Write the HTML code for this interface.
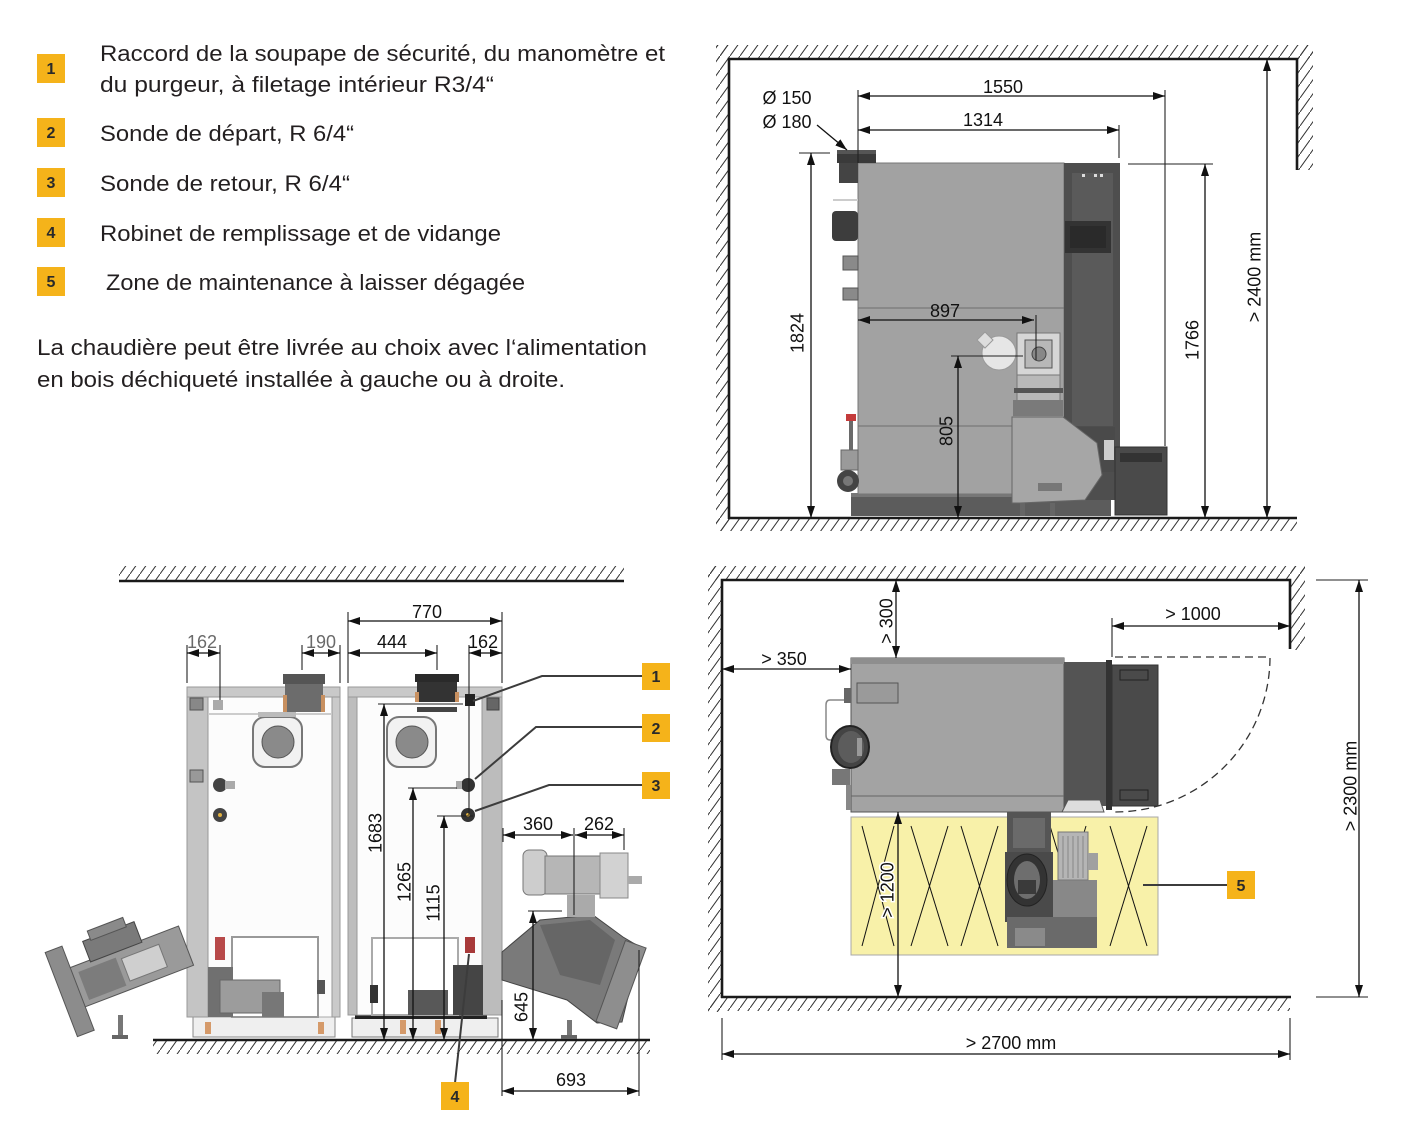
<!DOCTYPE html>
<html><head><meta charset="utf-8"><title>Chaudière - dimensions</title>
<style>
html,body{margin:0;padding:0;background:#fff;width:1405px;height:1145px;overflow:hidden}
svg{display:block}
.t{font-family:"Liberation Sans","DejaVu Sans",sans-serif;font-size:22px;fill:#231f20}
.d{font-family:"Liberation Sans","DejaVu Sans",sans-serif;font-size:18px;fill:#111;text-anchor:middle}
.g{fill:#6a6a6a}
.bd{font-family:"Liberation Sans","DejaVu Sans",sans-serif;font-size:16px;font-weight:bold;fill:#2a2a2a;text-anchor:middle}
.dim{stroke:#111;stroke-width:1.3;fill:none}
.ext{stroke:#222;stroke-width:1.1;fill:none}
.wall{stroke:#1a1a1a;stroke-width:2.6;fill:none}
.ld{stroke:#3c3c3c;stroke-width:2;fill:none}
.halo{paint-order:stroke;stroke:#fff;stroke-width:3px}
</style></head><body>
<svg width="1405" height="1145" viewBox="0 0 1405 1145" xmlns="http://www.w3.org/2000/svg">
<defs>
<pattern id="h" patternUnits="userSpaceOnUse" width="10" height="14">
<path d="M-1,15.4 L11,-1.4" stroke="#333" stroke-width="1"/>
</pattern>
<marker id="ar" viewBox="0 0 12 8" refX="12" refY="4" markerWidth="12" markerHeight="8" markerUnits="userSpaceOnUse" orient="auto-start-reverse"><path d="M0,0 L12,4 L0,8 z" fill="#111"/></marker>
<marker id="ae" viewBox="0 0 12 8" refX="12" refY="4" markerWidth="12" markerHeight="8" markerUnits="userSpaceOnUse" orient="auto"><path d="M0,0 L12,4 L0,8 z" fill="#111"/></marker>
</defs>
<rect width="1405" height="1145" fill="#fff"/>

<!-- ============ LEGEND TEXT ============ -->
<rect x="37" y="54" width="28" height="29" fill="#f5b31a"/><text class="bd" x="51" y="74">1</text>
<rect x="37" y="118" width="28" height="29" fill="#f5b31a"/><text class="bd" x="51" y="138">2</text>
<rect x="37" y="168" width="28" height="29" fill="#f5b31a"/><text class="bd" x="51" y="188">3</text>
<rect x="37" y="218" width="28" height="29" fill="#f5b31a"/><text class="bd" x="51" y="238">4</text>
<rect x="37" y="267" width="28" height="29" fill="#f5b31a"/><text class="bd" x="51" y="287">5</text>

<text class="t" x="100" y="61" textLength="565" lengthAdjust="spacingAndGlyphs">Raccord de la soupape de sécurité, du manomètre et</text>
<text class="t" x="100" y="92" textLength="394" lengthAdjust="spacingAndGlyphs">du purgeur, à filetage intérieur R3/4“</text>
<text class="t" x="100" y="141" textLength="254" lengthAdjust="spacingAndGlyphs">Sonde de départ, R 6/4“</text>
<text class="t" x="100" y="191" textLength="250" lengthAdjust="spacingAndGlyphs">Sonde de retour, R 6/4“</text>
<text class="t" x="100" y="241" textLength="401" lengthAdjust="spacingAndGlyphs">Robinet de remplissage et de vidange</text>
<text class="t" x="106" y="290" textLength="419" lengthAdjust="spacingAndGlyphs">Zone de maintenance à laisser dégagée</text>
<text class="t" x="37" y="355" textLength="610" lengthAdjust="spacingAndGlyphs">La chaudière peut être livrée au choix avec l‘alimentation</text>
<text class="t" x="37" y="387" textLength="528" lengthAdjust="spacingAndGlyphs">en bois déchiqueté installée à gauche ou à droite.</text>

<!-- ============ TOP RIGHT : SIDE VIEW ============ -->
<rect x="716" y="45" width="597" height="14" fill="url(#h)"/>
<rect x="716" y="45" width="13" height="486" fill="url(#h)"/>
<rect x="1298" y="45" width="15" height="125" fill="url(#h)"/>
<rect x="716" y="519" width="581" height="12" fill="url(#h)"/>
<rect x="729" y="59" width="568" height="459" fill="#fff"/>
<path class="wall" d="M729,519 V59 H1297 V170"/>
<line class="wall" x1="728" y1="518" x2="1297" y2="518"/>

<!-- base -->
<rect x="851" y="493" width="260" height="23" fill="#5c5c5c"/>
<rect x="851" y="493" width="260" height="4" fill="#777"/>
<!-- body -->
<rect x="858" y="163" width="206" height="331" fill="#a2a2a2" stroke="#777" stroke-width="1"/>
<line x1="858" y1="308" x2="1064" y2="308" stroke="#6e6e6e"/>
<line x1="858" y1="426" x2="1064" y2="426" stroke="#6e6e6e"/>
<!-- dark panel -->
<rect x="1064" y="163" width="56" height="337" fill="#4e4e4e"/>
<rect x="1072" y="173" width="41" height="253" fill="#5a5a5a"/>
<rect x="1065" y="221" width="46" height="32" fill="#333"/>
<rect x="1070" y="226" width="36" height="22" fill="#2a2a2a"/>
<rect x="1082" y="174" width="3" height="3" fill="#ddd"/><rect x="1094" y="174" width="3" height="3" fill="#ddd"/><rect x="1100" y="174" width="3" height="3" fill="#ddd"/>
<!-- flue -->
<rect x="837" y="152" width="39" height="11" fill="#3a3a3a"/>
<rect x="837" y="150" width="39" height="4" fill="#555"/>
<rect x="839" y="163" width="19" height="20" fill="#444"/>
<!-- left attachments -->
<rect x="833" y="199" width="25" height="2" fill="#ccc"/>
<rect x="832" y="211" width="26" height="30" rx="4" fill="#3d3d3d"/>
<rect x="843" y="256" width="15" height="14" fill="#8a8a8a" stroke="#555"/>
<rect x="843" y="288" width="15" height="12" fill="#8a8a8a" stroke="#555"/>
<rect x="846" y="414" width="10" height="7" fill="#c43b3b"/>
<rect x="849" y="421" width="4" height="48" fill="#6a6a6a"/>
<rect x="841" y="450" width="17" height="20" fill="#9a9a9a" stroke="#666"/>
<circle cx="848" cy="481" r="11" fill="#444"/>
<circle cx="848" cy="481" r="5" fill="#777"/>
<!-- burner -->
<rect x="1063" y="427" width="52" height="45" fill="#4a4a4a"/>
<circle cx="999" cy="353" r="17" fill="#e6e6e6" stroke="#999"/>
<path d="M977,340 L985,332 L993,340 L985,348 z" fill="#ddd" stroke="#999"/>
<rect x="1017" y="333" width="43" height="42" fill="#d6d6d6" stroke="#777"/>
<rect x="1025" y="340" width="27" height="28" fill="#b8b8b8" stroke="#555"/>
<circle cx="1039" cy="354" r="7" fill="#888" stroke="#444"/>
<rect x="1017" y="375" width="43" height="30" fill="#b9b9b9" stroke="#777"/>
<rect x="1014" y="388" width="49" height="5" fill="#555"/>
<rect x="1013" y="400" width="50" height="16" fill="#7a7a7a"/>
<path d="M1012,417 L1063,417 L1097,443 L1102,475 L1085,500 L1020,503 L1012,503 z" fill="#a6a6a6" stroke="#666"/>
<rect x="1038" y="483" width="24" height="8" fill="#777"/>
<rect x="1020" y="503" width="5" height="13" fill="#666"/>
<rect x="1050" y="503" width="5" height="13" fill="#666"/>
<rect x="1115" y="447" width="52" height="68" fill="#4a4a4a" stroke="#333"/>
<rect x="1120" y="453" width="42" height="9" fill="#333"/>
<rect x="1104" y="440" width="10" height="20" fill="#ccc"/>

<!-- dims top right -->
<line class="ext" x1="858" y1="90" x2="858" y2="163"/>
<line class="ext" x1="1165" y1="90" x2="1165" y2="446"/>
<line class="ext" x1="1119" y1="125" x2="1119" y2="158"/>
<line class="dim" x1="858" y1="96" x2="1165" y2="96" marker-start="url(#ar)" marker-end="url(#ar)"/>
<text class="d" x="1003" y="93">1550</text>
<line class="dim" x1="858" y1="130" x2="1119" y2="130" marker-start="url(#ar)" marker-end="url(#ar)"/>
<text class="d" x="983" y="126">1314</text>
<text class="d" x="787" y="104">Ø 150</text>
<text class="d" x="787" y="128">Ø 180</text>
<line class="dim" x1="817" y1="125" x2="847" y2="150" marker-end="url(#ae)"/>
<line class="ext" x1="799" y1="153" x2="830" y2="153"/>
<line class="dim" x1="811" y1="153" x2="811" y2="518" marker-start="url(#ar)" marker-end="url(#ar)"/>
<text class="d" transform="translate(797,333) rotate(-90)" dy="6.5">1824</text>
<line class="ext" x1="1128" y1="164" x2="1213" y2="164"/>
<line class="dim" x1="1205" y1="164" x2="1205" y2="518" marker-start="url(#ar)" marker-end="url(#ar)"/>
<text class="d" transform="translate(1192,340) rotate(-90)" dy="6.5">1766</text>
<line class="dim" x1="1267" y1="59" x2="1267" y2="518" marker-start="url(#ar)" marker-end="url(#ar)"/>
<text class="d" transform="translate(1254,277) rotate(-90)" dy="6.5">&gt; 2400 mm</text>
<line class="dim" x1="858" y1="320" x2="1034" y2="320" marker-start="url(#ar)" marker-end="url(#ar)"/>
<text class="d" x="945" y="317">897</text>
<line class="ext" x1="1036" y1="315" x2="1036" y2="360" stroke="#111"/>
<line class="ext" x1="951" y1="356" x2="1023" y2="356"/>
<line class="dim" x1="958" y1="356" x2="958" y2="518" marker-start="url(#ar)" marker-end="url(#ar)"/>
<text class="d" transform="translate(946,431) rotate(-90)" dy="6.5">805</text>

<!-- ============ BOTTOM RIGHT : TOP VIEW ============ -->
<rect x="708" y="566" width="597" height="14" fill="url(#h)"/>
<rect x="708" y="566" width="14" height="446" fill="url(#h)"/>
<rect x="1291" y="566" width="14" height="84" fill="url(#h)"/>
<rect x="708" y="998" width="582" height="13" fill="url(#h)"/>
<rect x="722" y="580" width="568" height="417" fill="#fff"/>
<path class="wall" d="M722,998 V580 H1290 V649"/>
<line class="wall" x1="721" y1="997" x2="1291" y2="997"/>

<!-- yellow zone -->
<rect x="851" y="817" width="307" height="138" fill="#f8f1a9" stroke="#a8a8a8"/>
<g stroke="#111" stroke-width="1">
<line x1="862" y1="826" x2="894" y2="946"/><line x1="894" y1="826" x2="862" y2="946"/>
<line x1="911" y1="826" x2="948" y2="946"/><line x1="948" y1="826" x2="911" y2="946"/>
<line x1="961" y1="826" x2="998" y2="946"/><line x1="998" y1="826" x2="961" y2="946"/>
<line x1="1050" y1="826" x2="1086" y2="946"/><line x1="1086" y1="826" x2="1050" y2="946"/>
<line x1="1110" y1="826" x2="1147" y2="946"/><line x1="1147" y1="826" x2="1110" y2="946"/>
</g>
<!-- burner equipment top view -->
<rect x="1007" y="812" width="44" height="42" fill="#555"/>
<rect x="1013" y="818" width="32" height="30" fill="#6a6a6a"/>
<rect x="1005" y="852" width="48" height="70" fill="#4a4a4a"/>
<ellipse cx="1027" cy="880" rx="20" ry="26" fill="#333" stroke="#222"/>
<ellipse cx="1027" cy="880" rx="13" ry="19" fill="#6e6e6e"/>
<rect x="1018" y="880" width="18" height="14" fill="#3a3a3a"/>
<rect x="1053" y="880" width="44" height="38" fill="#888"/>
<rect x="1058" y="832" width="30" height="48" fill="#b5b5b5" stroke="#777"/>
<g stroke="#888" stroke-width="1"><line x1="1063" y1="836" x2="1063" y2="878"/><line x1="1068" y1="836" x2="1068" y2="878"/><line x1="1073" y1="836" x2="1073" y2="878"/><line x1="1078" y1="836" x2="1078" y2="878"/><line x1="1083" y1="836" x2="1083" y2="878"/></g>
<rect x="1088" y="853" width="10" height="17" fill="#a0a0a0"/>
<rect x="1007" y="917" width="90" height="31" fill="#6a6a6a"/>
<rect x="1015" y="928" width="30" height="18" fill="#8a8a8a"/>
<!-- boiler top view -->
<rect x="851" y="658" width="213" height="154" fill="#a3a3a3" stroke="#555"/>
<rect x="851" y="658" width="213" height="6" fill="#8e8e8e"/>
<line x1="851" y1="796" x2="1064" y2="796" stroke="#666"/>
<rect x="1064" y="662" width="42" height="144" fill="#545454"/>
<rect x="1106" y="660" width="6" height="150" fill="#333"/>
<rect x="1112" y="665" width="46" height="141" fill="#4a4a4a" stroke="#333"/>
<rect x="1120" y="670" width="28" height="10" fill="none" stroke="#222"/>
<rect x="1120" y="790" width="28" height="10" fill="none" stroke="#222"/>
<path d="M1062,812 L1068,800 L1100,800 L1104,812 z" fill="#ddd" stroke="#555"/>
<rect x="857" y="683" width="41" height="20" fill="#9a9a9a" stroke="#555"/>
<path d="M851,700 H830 Q826,700 826,705 V735 Q826,740 830,740 H838" stroke="#888" fill="none" stroke-width="1.5"/>
<rect x="844" y="688" width="7" height="15" fill="#666"/>
<ellipse cx="850" cy="747" rx="19" ry="21" fill="#444" stroke="#222" stroke-width="2"/>
<ellipse cx="851" cy="747" rx="13" ry="16" fill="#5c5c5c"/>
<rect x="857" y="738" width="5" height="18" fill="#999"/>
<rect x="832" y="769" width="18" height="16" fill="#777"/>
<rect x="846" y="785" width="5" height="25" fill="#888"/>
<!-- dashed door arc -->
<path d="M1115,657 L1270,657 A155,155 0 0 1 1115,812" fill="none" stroke="#333" stroke-width="1.3" stroke-dasharray="8,5"/>

<!-- dims bottom right -->
<line class="dim" x1="896" y1="580" x2="896" y2="658" marker-start="url(#ar)" marker-end="url(#ar)"/>
<text class="d" transform="translate(886,621) rotate(-90)" dy="6.5">&gt; 300</text>
<line class="ext" x1="1112" y1="618" x2="1112" y2="657"/>
<line class="dim" x1="1112" y1="626" x2="1290" y2="626" marker-start="url(#ar)" marker-end="url(#ar)"/>
<text class="d" x="1193" y="620">&gt; 1000</text>
<line class="dim" x1="722" y1="669" x2="851" y2="669" marker-start="url(#ar)" marker-end="url(#ar)"/>
<text class="d" x="784" y="665">&gt; 350</text>
<line class="dim" x1="898" y1="812" x2="898" y2="997" marker-start="url(#ar)" marker-end="url(#ar)"/>
<text class="d halo" transform="translate(887,890) rotate(-90)" dy="6.5">&gt; 1200</text>
<line class="ext" x1="1316" y1="580" x2="1368" y2="580"/>
<line class="ext" x1="1316" y1="997" x2="1368" y2="997"/>
<line class="dim" x1="1359" y1="580" x2="1359" y2="997" marker-start="url(#ar)" marker-end="url(#ar)"/>
<text class="d" transform="translate(1350,786) rotate(-90)" dy="6.5">&gt; 2300 mm</text>
<line class="ext" x1="722" y1="1018" x2="722" y2="1060"/>
<line class="ext" x1="1290" y1="1018" x2="1290" y2="1060"/>
<line class="dim" x1="722" y1="1054" x2="1290" y2="1054" marker-start="url(#ar)" marker-end="url(#ar)"/>
<text class="d" x="1011" y="1049">&gt; 2700 mm</text>
<line class="ld" x1="1143" y1="885" x2="1227" y2="885" stroke-width="1.5"/>
<rect x="1227" y="871" width="28" height="28" fill="#f5b31a"/><text class="bd" x="1241" y="891">5</text>

<!-- ============ BOTTOM LEFT : FRONT/REAR VIEW ============ -->
<rect x="119" y="566" width="505" height="15" fill="url(#h)"/>
<line class="wall" x1="119" y1="581" x2="624" y2="581"/>
<rect x="153" y="1041" width="497" height="13" fill="url(#h)"/>
<line class="wall" x1="153" y1="1040" x2="650" y2="1040"/>

<!-- left boiler (rear) -->
<rect x="193" y="1017" width="142" height="20" fill="#efefef" stroke="#888"/>
<rect x="205" y="1022" width="6" height="12" fill="#d59a6a"/><rect x="318" y="1022" width="6" height="12" fill="#d59a6a"/>
<rect x="187" y="687" width="153" height="330" fill="#fcfcfc" stroke="#aaa"/>
<rect x="187" y="687" width="21" height="330" fill="#c4c4c4" stroke="#999"/>
<rect x="332" y="697" width="8" height="320" fill="#cacaca" stroke="#999"/>
<rect x="187" y="687" width="153" height="10" fill="#c9c9c9" stroke="#999"/>
<rect x="190" y="698" width="13" height="12" fill="#888" stroke="#555"/>
<rect x="213" y="700" width="10" height="10" fill="#aaa"/>
<rect x="208" y="713" width="124" height="2" fill="#ccc"/>
<rect x="285" y="676" width="38" height="36" fill="#6c6c6c"/>
<rect x="283" y="674" width="42" height="10" fill="#555"/>
<rect x="283" y="695" width="4" height="17" fill="#c89060"/><rect x="321" y="695" width="4" height="17" fill="#c89060"/>
<rect x="253" y="717" width="49" height="50" rx="12" fill="#f2f2f2" stroke="#777" stroke-width="2"/>
<rect x="258" y="712" width="38" height="5" fill="#bbb"/>
<circle cx="278" cy="742" r="16" fill="#8a8a8a" stroke="#555"/>
<circle cx="220" cy="785" r="7" fill="#444"/><rect x="225" y="781" width="10" height="8" fill="#aaa"/>
<circle cx="220" cy="815" r="7" fill="#444"/><circle cx="220" cy="815" r="2" fill="#e0b040"/>
<rect x="190" y="770" width="13" height="12" fill="#999" stroke="#555"/>
<rect x="232" y="937" width="86" height="80" fill="#fff" stroke="#999" stroke-width="2"/>
<rect x="208" y="967" width="25" height="50" fill="#707070"/>
<rect x="220" y="980" width="60" height="33" fill="#9c9c9c" stroke="#666"/>
<rect x="262" y="992" width="22" height="25" fill="#777"/>
<rect x="215" y="937" width="10" height="23" fill="#b84a4a"/>
<rect x="317" y="980" width="8" height="14" fill="#555"/>
<!-- left burner -->
<g transform="rotate(-21 125 968)">
<rect x="72" y="948" width="118" height="42" fill="#9a9a9a" stroke="#555"/>
<rect x="80" y="955" width="40" height="30" fill="#7c7c7c"/>
<rect x="125" y="958" width="40" height="24" fill="#cfcfcf" stroke="#777"/>
<rect x="95" y="928" width="55" height="22" fill="#7a7a7a" stroke="#444"/>
<rect x="103" y="920" width="38" height="10" fill="#8a8a8a" stroke="#555"/>
<rect x="56" y="925" width="18" height="90" fill="#8c8c8c" stroke="#555"/>
</g>
<rect x="118" y="1015" width="5" height="22" fill="#777"/>
<rect x="112" y="1035" width="16" height="4" fill="#666"/>

<!-- right boiler (front) -->
<rect x="352" y="1018" width="146" height="19" fill="#efefef" stroke="#777"/>
<rect x="355" y="1015" width="132" height="4" fill="#222"/>
<rect x="400" y="1020" width="6" height="14" fill="#d59a6a"/><rect x="435" y="1020" width="6" height="14" fill="#d59a6a"/>
<rect x="348" y="687" width="154" height="328" fill="#fcfcfc" stroke="#aaa"/>
<rect x="348" y="687" width="9" height="328" fill="#bdbdbd" stroke="#999"/>
<rect x="482" y="697" width="20" height="318" fill="#bcbcbc" stroke="#999"/>
<rect x="348" y="687" width="154" height="10" fill="#c9c9c9" stroke="#999"/>
<rect x="487" y="698" width="12" height="12" fill="#666" stroke="#444"/>
<rect x="417" y="676" width="40" height="26" fill="#333"/>
<rect x="415" y="674" width="44" height="8" fill="#2a2a2a"/>
<rect x="415" y="692" width="4" height="10" fill="#c89060"/><rect x="455" y="692" width="4" height="10" fill="#c89060"/>
<rect x="417" y="707" width="40" height="5" fill="#444"/>
<rect x="387" y="717" width="49" height="50" rx="12" fill="#f2f2f2" stroke="#777" stroke-width="2"/>
<circle cx="412" cy="742" r="16" fill="#8a8a8a" stroke="#555"/>
<rect x="465" y="694" width="10" height="12" fill="#222"/>
<circle cx="468" cy="785" r="7" fill="#333"/><rect x="456" y="781" width="6" height="8" fill="#aaa"/>
<circle cx="468" cy="815" r="7" fill="#333"/><circle cx="468" cy="815" r="2" fill="#e0b040"/>
<rect x="372" y="938" width="86" height="77" fill="#fff" stroke="#aaa" stroke-width="2"/>
<rect x="453" y="965" width="30" height="50" fill="#454545"/>
<rect x="408" y="990" width="40" height="25" fill="#585858"/>
<rect x="370" y="985" width="8" height="18" fill="#333"/>
<rect x="465" y="937" width="10" height="16" fill="#a83a3a"/>
<!-- right burner -->
<path d="M502,952 L540,920 L593,915 L623,937 L640,947 L622,1022 L597,1023 L567,1000 L502,980 z" fill="#7a7a7a" stroke="#444"/>
<path d="M540,925 L590,920 L615,940 L600,985 L560,975 z" fill="#666"/>
<g transform="rotate(20 622 985)"><rect x="610" y="942" width="22" height="86" fill="#8e8e8e" stroke="#555"/></g>
<rect x="567" y="895" width="28" height="22" fill="#aaa"/>
<rect x="523" y="850" width="24" height="45" rx="6" fill="#cdcdcd" stroke="#777"/>
<rect x="545" y="856" width="55" height="38" fill="#b6b6b6" stroke="#777"/>
<rect x="600" y="853" width="28" height="45" fill="#d2d2d2" stroke="#888"/>
<rect x="628" y="876" width="14" height="8" fill="#aaa"/>
<rect x="567" y="1020" width="5" height="18" fill="#777"/>
<rect x="561" y="1035" width="16" height="4" fill="#666"/>

<!-- leaders & badges -->
<polyline class="ld" points="642,676 542,676 473,701"/>
<polyline class="ld" points="642,727 536,727 475,779"/>
<polyline class="ld" points="642,785 549,785 475,811"/>
<line class="ld" x1="455" y1="1083" x2="469" y2="954"/>
<rect x="642" y="663" width="28" height="27" fill="#f5b31a"/><text class="bd" x="656" y="682">1</text>
<rect x="642" y="714" width="28" height="28" fill="#f5b31a"/><text class="bd" x="656" y="734">2</text>
<rect x="642" y="772" width="28" height="27" fill="#f5b31a"/><text class="bd" x="656" y="791">3</text>
<rect x="441" y="1082" width="28" height="28" fill="#f5b31a"/><text class="bd" x="455" y="1102">4</text>

<!-- dims bottom left -->
<g class="ext" stroke="#555">
<line x1="187" y1="645" x2="187" y2="683"/>
<line x1="220" y1="645" x2="220" y2="700"/>
<line x1="302" y1="645" x2="302" y2="670"/>
<line x1="340" y1="645" x2="340" y2="683"/>
</g>
<line class="ext" x1="348" y1="612" x2="348" y2="683"/>
<line class="ext" x1="502" y1="612" x2="502" y2="683"/>
<line class="ext" x1="437" y1="645" x2="437" y2="670"/>
<line class="ext" x1="469" y1="645" x2="469" y2="815"/>
<line class="dim" x1="187" y1="653" x2="220" y2="653" stroke="#555" marker-start="url(#ar)" marker-end="url(#ar)"/>
<text class="d g" x="202" y="648">162</text>
<line class="dim" x1="302" y1="653" x2="340" y2="653" stroke="#555" marker-start="url(#ar)" marker-end="url(#ar)"/>
<text class="d g" x="321" y="648">190</text>
<line class="dim" x1="348" y1="621" x2="502" y2="621" marker-start="url(#ar)" marker-end="url(#ar)"/>
<text class="d" x="427" y="618">770</text>
<line class="dim" x1="348" y1="653" x2="437" y2="653" marker-start="url(#ar)" marker-end="url(#ar)"/>
<text class="d" x="392" y="648">444</text>
<line class="dim" x1="469" y1="653" x2="502" y2="653" marker-start="url(#ar)" marker-end="url(#ar)"/>
<text class="d" x="483" y="648">162</text>

<line class="ext" x1="378" y1="704" x2="463" y2="704"/>
<line class="dim" x1="384" y1="704" x2="384" y2="1040" marker-start="url(#ar)" marker-end="url(#ar)"/>
<text class="d halo" transform="translate(375,833) rotate(-90)" dy="6.5">1683</text>
<line class="ext" x1="408" y1="788" x2="457" y2="788"/>
<line class="dim" x1="413" y1="788" x2="413" y2="1040" marker-start="url(#ar)" marker-end="url(#ar)"/>
<text class="d halo" transform="translate(404,882) rotate(-90)" dy="6.5">1265</text>
<line class="ext" x1="437" y1="816" x2="473" y2="816"/>
<line class="dim" x1="444" y1="816" x2="444" y2="1040" marker-start="url(#ar)" marker-end="url(#ar)"/>
<text class="d halo" transform="translate(433,903) rotate(-90)" dy="6.5">1115</text>

<line class="ext" x1="503" y1="828" x2="503" y2="842"/>
<line class="ext" x1="574" y1="828" x2="574" y2="915"/>
<line class="ext" x1="624" y1="828" x2="624" y2="850"/>
<line class="dim" x1="503" y1="835" x2="573" y2="835" marker-start="url(#ar)" marker-end="url(#ar)"/>
<text class="d" x="538" y="830">360</text>
<line class="dim" x1="575" y1="835" x2="624" y2="835" marker-start="url(#ar)" marker-end="url(#ar)"/>
<text class="d" x="599" y="830">262</text>
<line class="ext" x1="528" y1="911" x2="562" y2="911"/>
<line class="dim" x1="533" y1="911" x2="533" y2="1040" marker-start="url(#ar)" marker-end="url(#ar)"/>
<text class="d" transform="translate(521,1007) rotate(-90)" dy="6.5">645</text>
<line class="ext" x1="502" y1="1000" x2="502" y2="1096"/>
<line class="ext" x1="639" y1="950" x2="639" y2="1096"/>
<line class="dim" x1="502" y1="1091" x2="639" y2="1091" marker-start="url(#ar)" marker-end="url(#ar)"/>
<text class="d" x="571" y="1086">693</text>
</svg>
</body></html>
